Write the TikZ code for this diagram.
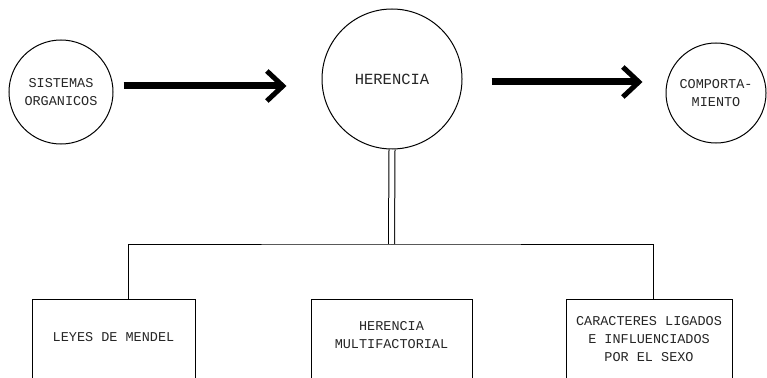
\documentclass[tikz,border=0pt]{standalone}
\usepackage{fontspec}
\setmonofont{Liberation Mono}
\usetikzlibrary{arrows.meta}
\begin{document}
\begin{tikzpicture}[x=1pt,y=-1pt,
  every node/.style={font=\ttfamily\fontsize{13.5}{18}\selectfont, text=black!85},
  circ/.style={draw, circle, line width=1pt, inner sep=0pt, align=center},
  boxnode/.style={draw, rectangle, line width=1pt, anchor=north, minimum height=120pt, inner sep=0pt},
  txt/.style={align=center, inner sep=0pt},
  fat/.style={line width=7pt, -{Straight Barb[length=16pt,width=30pt,line width=5pt]}},
  link/.style={line width=1pt},
]
\clip (0,0) rectangle (767,377);
\fill[white] (0,0) rectangle (767,377);

% top row: three circles
\node[circ, minimum size=104pt] (sist) at (61,92) {SISTEMAS\\ORGANICOS};
\node[circ, minimum size=140pt, font=\ttfamily\fontsize{15.5}{18}\selectfont] (her) at (392,79) {HERENCIA};
\node[circ, minimum size=100pt] (comp) at (716,93) {COMPORTA-\\MIENTO};

% heavy arrows between the circles
\path ([xshift=10pt,yshift=6pt]sist.east) coordinate (a1s);
\draw[fat, shorten >=35pt] (a1s) -- (a1s -| her.west);
\path ([xshift=29pt,yshift=-3pt]her.east) coordinate (a2s);
\draw[fat, shorten >=23pt] (a2s) -- (a2s -| comp.west);

% bottom row: three boxes running off the lower edge
\node[boxnode, minimum width=163pt] (mendel) at (113.5,299) {};
\node[txt] (mendelT) at (113.5,337) {LEYES DE MENDEL};
\node[boxnode, minimum width=161pt] (multi) at (391.5,299) {};
\node[txt] (multiT) at (391.5,335) {HERENCIA\\MULTIFACTORIAL};
\node[boxnode, minimum width=166pt] (sexo) at (649,299) {};
\node[txt] (sexoT) at (649,339) {CARACTERES LIGADOS\\E INFLUENCIADOS\\POR EL SEXO};

% double stem from HERENCIA down to the branching line
\coordinate (hub) at (391.5,244);
\draw[link, double, double distance=5pt] (her.south) -- (hub);
\draw[link] ([xshift=14.5pt]mendel.north) |- (hub) -| ([xshift=4pt]sexo.north);
\end{tikzpicture}
\end{document}
